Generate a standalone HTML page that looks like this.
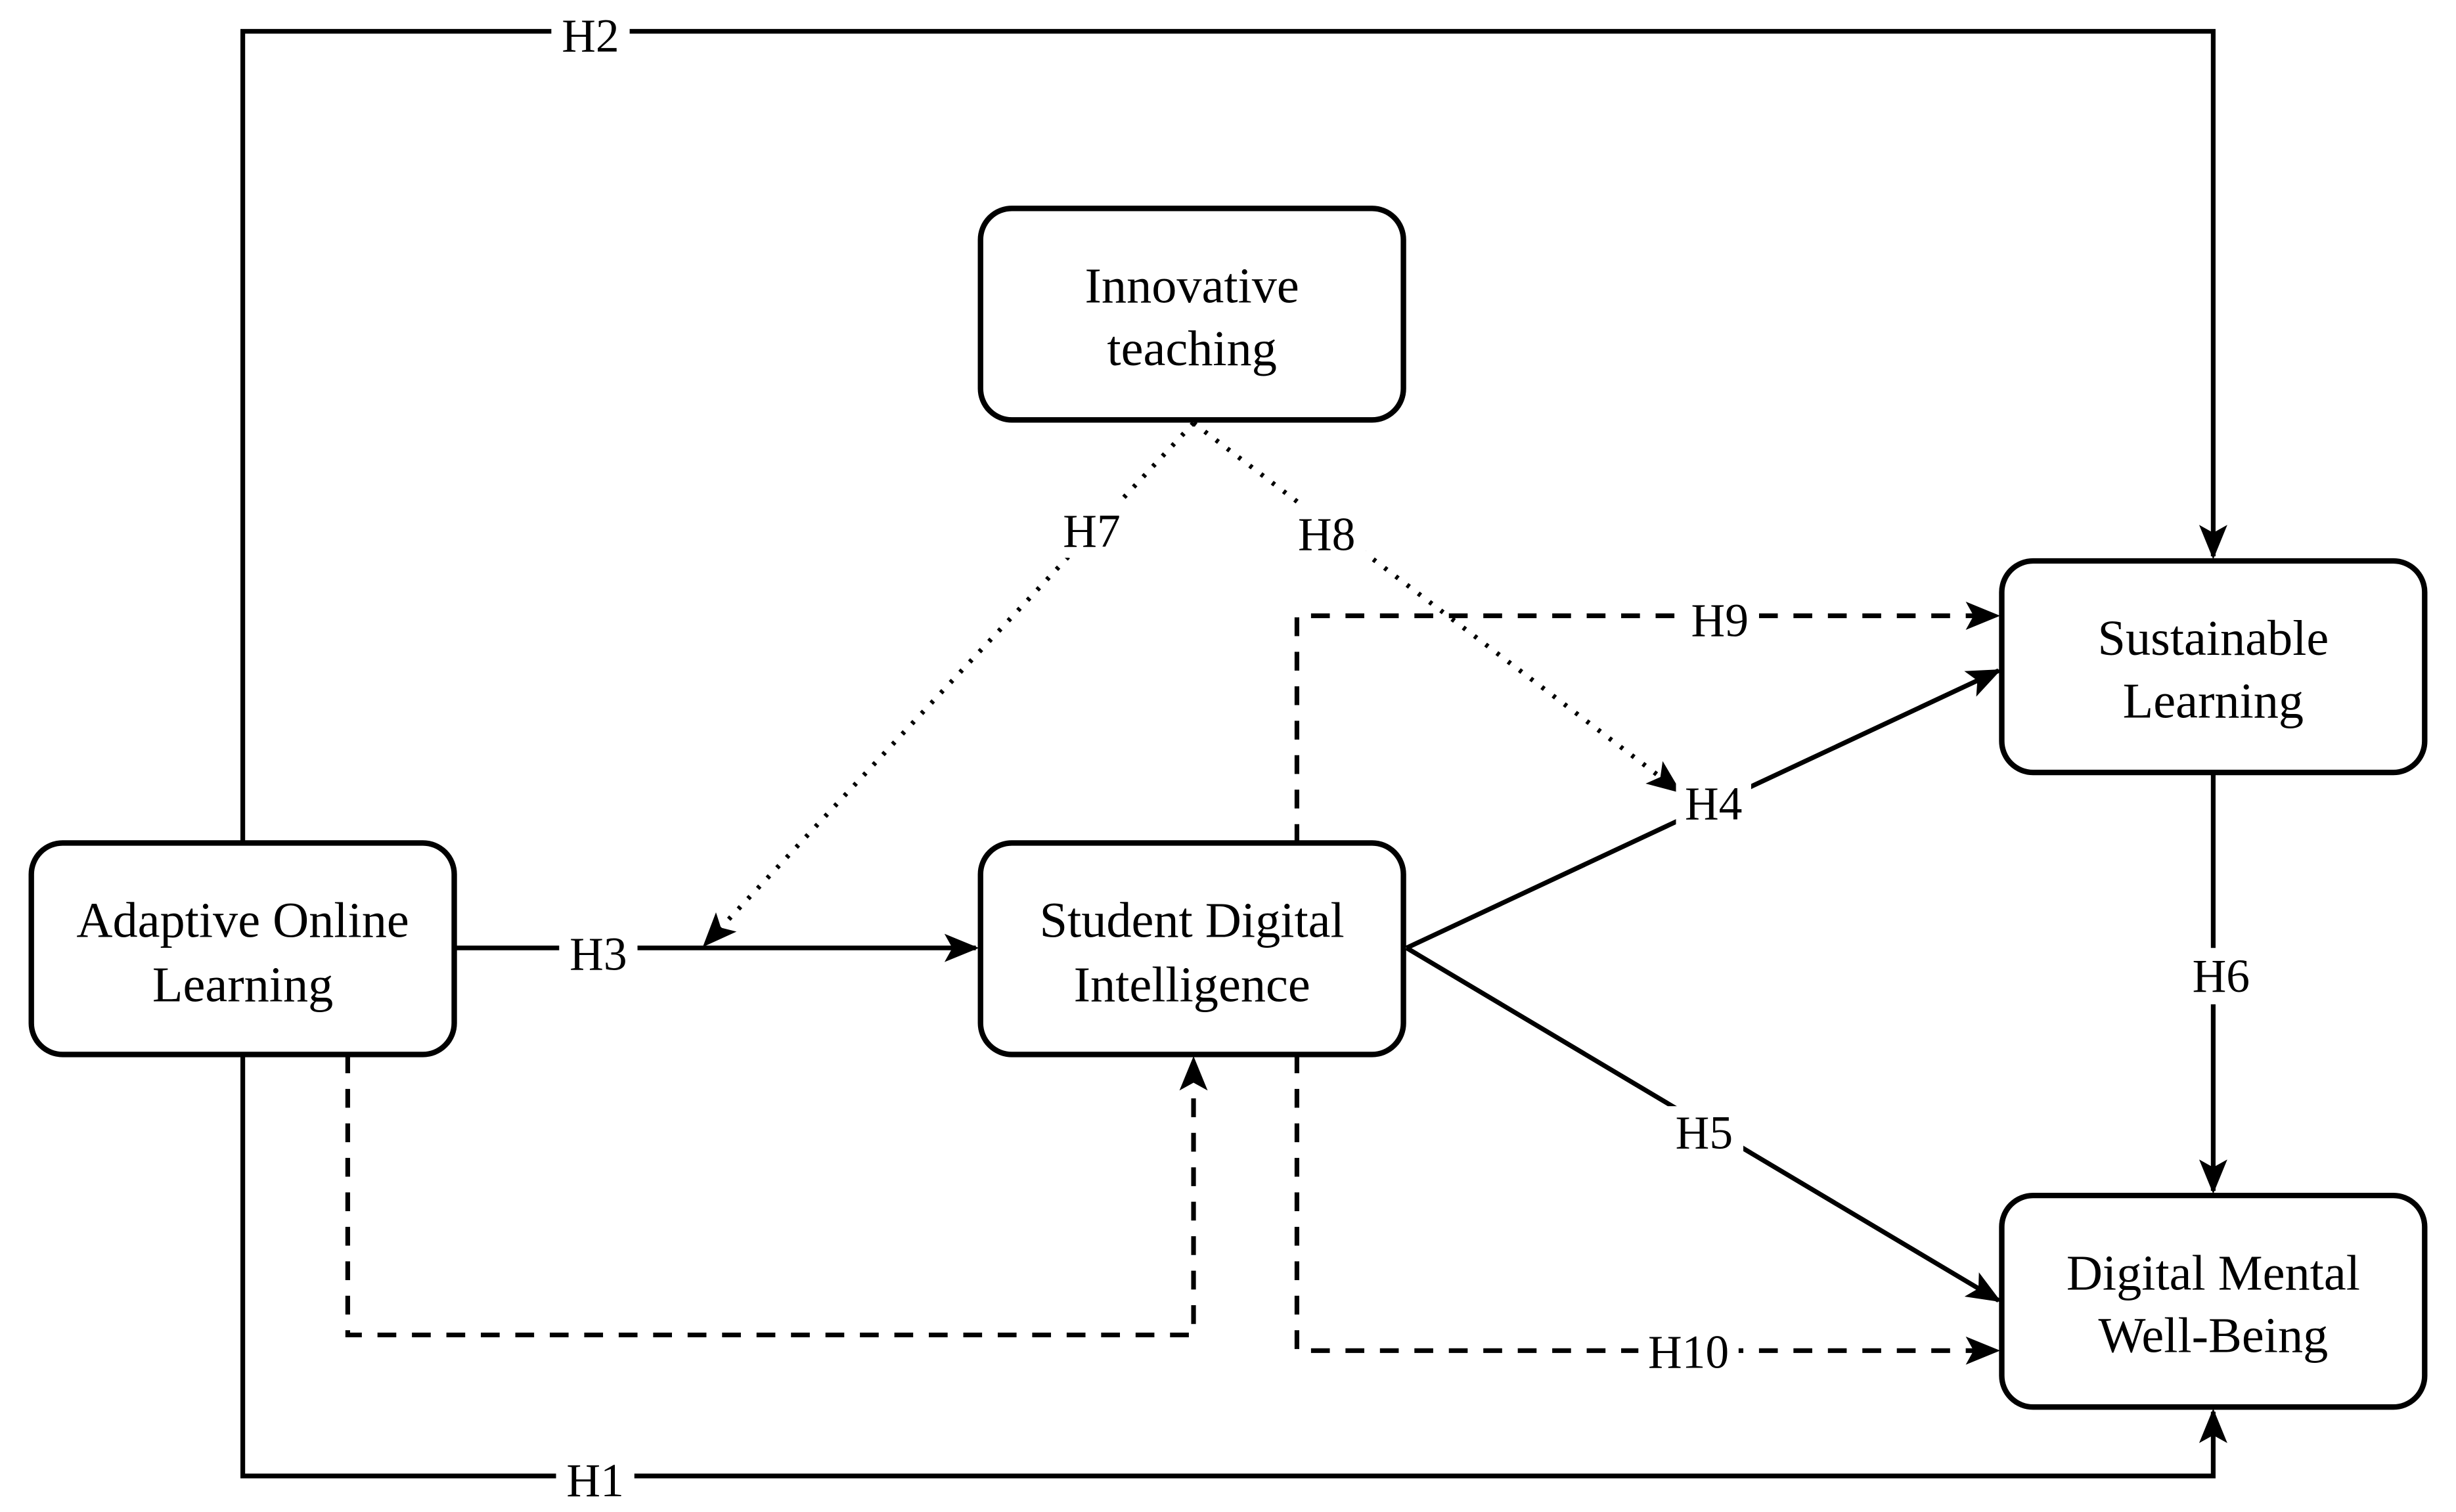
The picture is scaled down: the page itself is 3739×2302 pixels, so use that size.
<!DOCTYPE html>
<html><head><meta charset="utf-8"><style>
html,body{margin:0;padding:0;background:#fff;}
svg{display:block;}
text{font-family:"Liberation Serif",serif;fill:#000;}
</style></head><body>
<svg width="3739" height="2302" viewBox="0 0 1568 965" preserveAspectRatio="none" xmlns="http://www.w3.org/2000/svg">
<defs>
<marker id="a" markerUnits="userSpaceOnUse" markerWidth="24" markerHeight="20" refX="20" refY="10" orient="auto" viewBox="0 0 24 20">
<path d="M0,1 L22,10 L0,19 L5,10 z" fill="#000"/>
</marker>
</defs>
<g fill="none" stroke="#000" stroke-width="3">
<!-- H2 -->
<polyline points="155,538 155,20 1413,20 1413,355" marker-end="url(#a)"/>
<!-- H1 -->
<polyline points="155,673 155,942 1413,942 1413,901" marker-end="url(#a)"/>
<!-- H3 -->
<line x1="290" y1="605" x2="623" y2="605" marker-end="url(#a)"/>
<!-- H4 -->
<line x1="898" y1="605" x2="1276" y2="428" marker-end="url(#a)"/>
<!-- H5 -->
<line x1="898" y1="605" x2="1276" y2="830" marker-end="url(#a)"/>
<!-- H6 -->
<line x1="1413" y1="493" x2="1413" y2="760" marker-end="url(#a)"/>
</g>
<g fill="none" stroke="#000" stroke-width="3" stroke-dasharray="12,10">
<polyline points="222,673 222,852 762,852 762,676" marker-end="url(#a)"/>
<polyline points="828,538 828,393 1275,393" marker-end="url(#a)"/>
<polyline points="828,673 828,862 1275,862" marker-end="url(#a)"/>
</g>
<g fill="none" stroke="#000" stroke-width="3" stroke-dasharray="2,7">
<line x1="762" y1="270" x2="450" y2="603" marker-end="url(#a)"/>
<line x1="762" y1="270" x2="1072" y2="505" marker-end="url(#a)"/>
</g>
<g fill="#fff" stroke="#000" stroke-width="3.5">
<rect x="20" y="538" width="270" height="135" rx="20"/>
<rect x="626" y="133" width="270" height="135" rx="20"/>
<rect x="626" y="538" width="270" height="135" rx="20"/>
<rect x="1278" y="358" width="270" height="135" rx="20"/>
<rect x="1278" y="763" width="270" height="135" rx="20"/>
</g>
<g font-size="32" text-anchor="middle">
<text x="155" y="598">Adaptive Online</text><text x="155" y="639">Learning</text>
<text x="761" y="193">Innovative</text><text x="761" y="233">teaching</text>
<text x="761" y="598">Student Digital</text><text x="761" y="639">Intelligence</text>
<text x="1413" y="418">Sustainable</text><text x="1413" y="458">Learning</text>
<text x="1413" y="823">Digital Mental</text><text x="1413" y="863">Well-Being</text>
</g>
<g fill="#fff">
<rect x="352" y="6" width="50" height="32"/>
<rect x="355" y="928" width="50" height="32"/>
<rect x="357" y="590" width="50" height="34"/>
<rect x="1070" y="496" width="48" height="34"/>
<rect x="1063" y="706" width="50" height="34"/>
<rect x="1392" y="605" width="50" height="36"/>
<rect x="1073" y="378" width="50" height="32"/>
<rect x="1046" y="846" width="64" height="32"/>
<rect x="672" y="320" width="50" height="36"/>
<rect x="822" y="322" width="50" height="36"/>
</g>
<g font-size="30" text-anchor="middle">
<text x="377" y="33">H2</text>
<text x="380" y="955">H1</text>
<text x="382" y="619">H3</text>
<text x="1094" y="523">H4</text>
<text x="1088" y="733">H5</text>
<text x="1418" y="633">H6</text>
<text x="697" y="349">H7</text>
<text x="847" y="351">H8</text>
<text x="1098" y="406">H9</text>
<text x="1078" y="873">H10</text>
</g>
</svg>
</body></html>
